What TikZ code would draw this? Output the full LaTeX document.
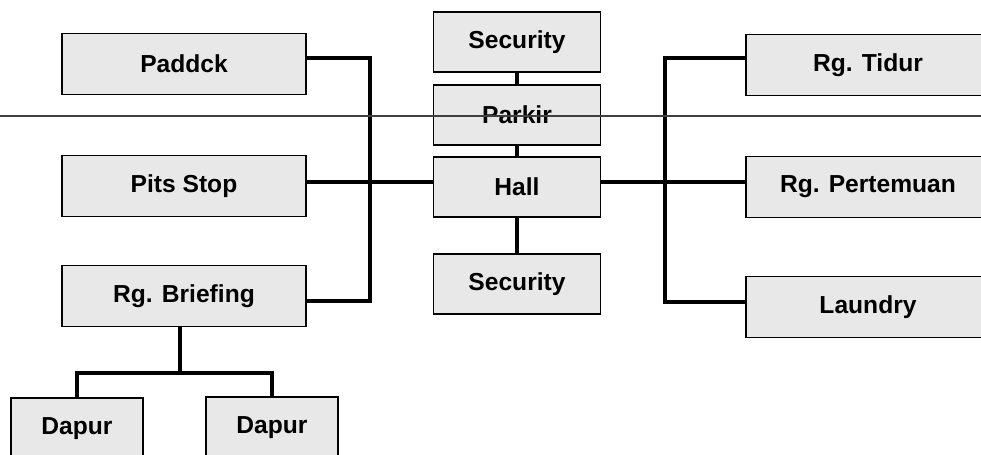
\documentclass[tikz,border=0pt]{standalone}
\usepackage{fontspec}
\setmainfont{Liberation Sans}
\begin{document}
\begin{tikzpicture}[x=0.02cm,y=-0.02cm,
  roombox/.style={draw=black,line width=1.1pt,fill=black!9,inner sep=0pt,
    font=\fontsize{14}{16}\selectfont\bfseries},
  sidebox/.style={roombox,minimum width=4.88cm,minimum height=1.22cm},
  centerbox/.style={roombox,minimum width=3.34cm,minimum height=1.2cm},
  kitchenbox/.style={roombox,minimum width=2.64cm,minimum height=1.24cm},
  link/.style={line width=1.9pt}]
\useasboundingbox (0,0) rectangle (981,455);
\clip (0,0) rectangle (981,455);
% left wing
\node[sidebox] (paddck) at (184,64) {Paddck};
\node[sidebox] (pits) at (184,186) {Pits Stop};
\node[sidebox] (briefing) at (184,296) {Rg. Briefing};
\node[kitchenbox] (dapurA) at (77,429) {Dapur};
\node[kitchenbox] (dapurB) at (272,428) {Dapur};
% centre
\node[centerbox] (securityA) at (517,42) {Security};
\node[centerbox] (parkir) at (517,115) {Parkir};
\node[centerbox] (hall) at (517,187) {Hall};
\node[centerbox] (securityB) at (517,284) {Security};
% right wing
\node[sidebox] (tidur) at (868,65) {Rg. Tidur};
\node[sidebox] (pertemuan) at (868,187) {Rg. Pertemuan};
\node[sidebox] (laundry) at (868,307) {Laundry};
% bus corners
\coordinate (busLtop) at (370,58);
\coordinate (busLbot) at (370,301);
\coordinate (busRtop) at (665,58);
\coordinate (busRbot) at (665,302);
\coordinate (hallrow) at (0,182);
\coordinate (split) at (180,373);
% connectors
\draw[link] (paddck.east |- busLtop) -- (busLtop) -- (busLbot) -- (briefing.east |- busLbot);
\draw[link] (tidur.west |- busRtop) -- (busRtop) -- (busRbot) -- (laundry.west |- busRbot);
\draw[link] (pits.east |- hallrow) -- (hall.west |- hallrow);
\draw[link] (hall.east |- hallrow) -- (pertemuan.west |- hallrow);
\draw[link] (securityA.south) -- (parkir.north);
\draw[link] (parkir.south) -- (hall.north);
\draw[link] (hall.south) -- (securityB.north);
\draw[link] (briefing.south -| split) -- (split);
\draw[link] (dapurA.north) |- (split) -| (dapurB.north);
% page rule
\draw[black!75,line width=0.6pt] (0,116) -- (981,116);
\end{tikzpicture}
\end{document}
